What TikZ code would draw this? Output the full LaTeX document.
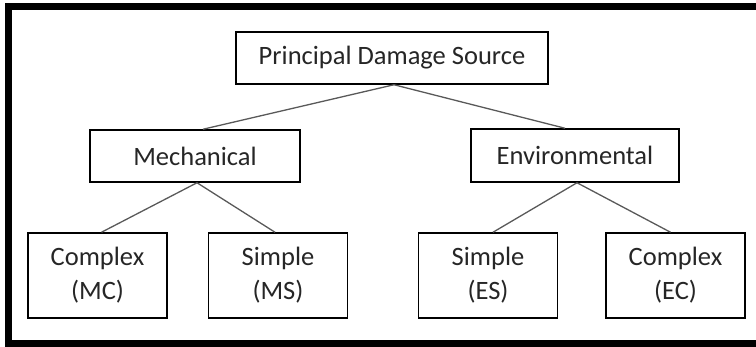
\documentclass[tikz,border=0pt]{standalone}
\usepackage{fontspec}
\setmainfont{Carlito}
\usepackage{tikz}

\begin{document}
\begin{tikzpicture}[x=1pt, y=-1pt,
    box/.style={draw, line width=1.5pt, fill=white, inner sep=0pt, align=center,
        font=\fontsize{26.5}{34}\selectfont, text=black!85},
    leaf/.style={box, minimum width=139pt, minimum height=85pt},
    link/.style={line width=1.3pt, draw=black!65}]
\useasboundingbox (0, 0) rectangle (756, 347);
\draw[line width=7pt] (760, 6.5) -- (8.5, 6.5) -- (8.5, 343.5) -- (760, 343.5);

\node[box, minimum width=312pt, minimum height=52pt] (pds) at (392, 58) {Principal Damage Source};
\node[box, minimum width=210pt, minimum height=52pt] (mech) at (195, 156) {Mechanical};
\node[box, minimum width=208pt, minimum height=53pt] (env) at (575, 155.5) {Environmental};

\node[leaf] (mc) at (97.5, 275.5) {Complex\\(MC)};
\node[leaf] (ms) at (278, 275.5) {Simple\\(MS)};
\node[leaf] (es) at (488, 275.5) {Simple\\(ES)};
\node[leaf] (ec) at (675.5, 275.5) {Complex\\(EC)};

\draw[link] ([xshift=2pt]pds.south) -- ([xshift=8pt]mech.north);
\draw[link] ([xshift=2pt]pds.south) -- ([xshift=-10pt]env.north);
\draw[link] ([xshift=2pt]mech.south) -- ([xshift=4pt]mc.north);
\draw[link] ([xshift=2pt]mech.south) -- ([xshift=-3pt]ms.north);
\draw[link] ([xshift=2pt]env.south) -- ([xshift=5pt]es.north);
\draw[link] ([xshift=2pt]env.south) -- ([xshift=-5pt]ec.north);

\end{tikzpicture}
\end{document}
